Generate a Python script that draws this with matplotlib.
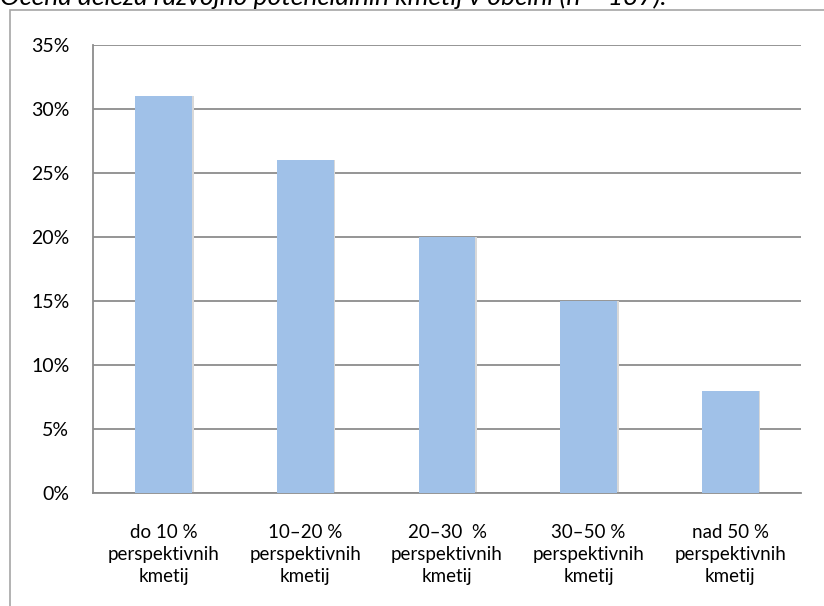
import matplotlib
matplotlib.use("Agg")
import matplotlib.pyplot as plt
from matplotlib.patches import Rectangle
from matplotlib.ticker import FuncFormatter

categories = ["do 10 %\nperspektivnih\nkmetij",
              "10–20 %\nperspektivnih\nkmetij",
              "20–30  %\nperspektivnih\nkmetij",
              "30–50 %\nperspektivnih\nkmetij",
              "nad 50 %\nperspektivnih\nkmetij"]
values = [31, 26, 20, 15, 8]
yticks = [0, 5, 10, 15, 20, 25, 30, 35]
title = "Ocena deleža razvojno potencialnih kmetij v občini (n = 137)."

plt.rcParams['font.family'] = ['Lato', 'DejaVu Sans']

W, H = 824, 606
fig = plt.figure(figsize=(W/100, H/100), dpi=100)
ax = fig.add_axes([93/W, 1-493/H, (801-93)/W, (493-45)/H])

x = list(range(len(values)))
# subtle shadow
ax.bar([i + 0.012 for i in x], values, width=0.4, color='#d8d8d8', zorder=2)
ax.bar(x, values, width=0.4, color='#a0c1e8', zorder=3)

ax.set_xlim(-0.5, len(values) - 0.5)
ax.set_ylim(0, 35)
ax.set_yticks(yticks)
ax.yaxis.set_major_formatter(FuncFormatter(lambda v, p: f"{int(v)}%"))
ax.set_xticks(x)
ax.set_xticklabels(categories, linespacing=1.38)
ax.grid(axis='y', color='#8c8c8c', linewidth=1.3, zorder=1)
ax.set_axisbelow(True)
for s in ['top', 'right']:
    ax.spines[s].set_visible(False)
for s in ['left', 'bottom']:
    ax.spines[s].set_color('#8c8c8c')
    ax.spines[s].set_linewidth(1.3)
ax.tick_params(axis='both', length=0, colors='black')
ax.tick_params(axis='y', pad=17, labelsize=14)
ax.tick_params(axis='x', pad=22, labelsize=13.5)

# outer chart border
fig.patches.append(Rectangle((10/W, -0.1), 1.2, 1.1 - 10/H, transform=fig.transFigure,
                             fill=False, edgecolor='#a6a6a6', linewidth=1.2))

fig.text(666/W, 1 - 5/H, title, ha='right', va='baseline', fontsize=19,
         style='italic', color='black')

fig.savefig("out.png", dpi=100)
